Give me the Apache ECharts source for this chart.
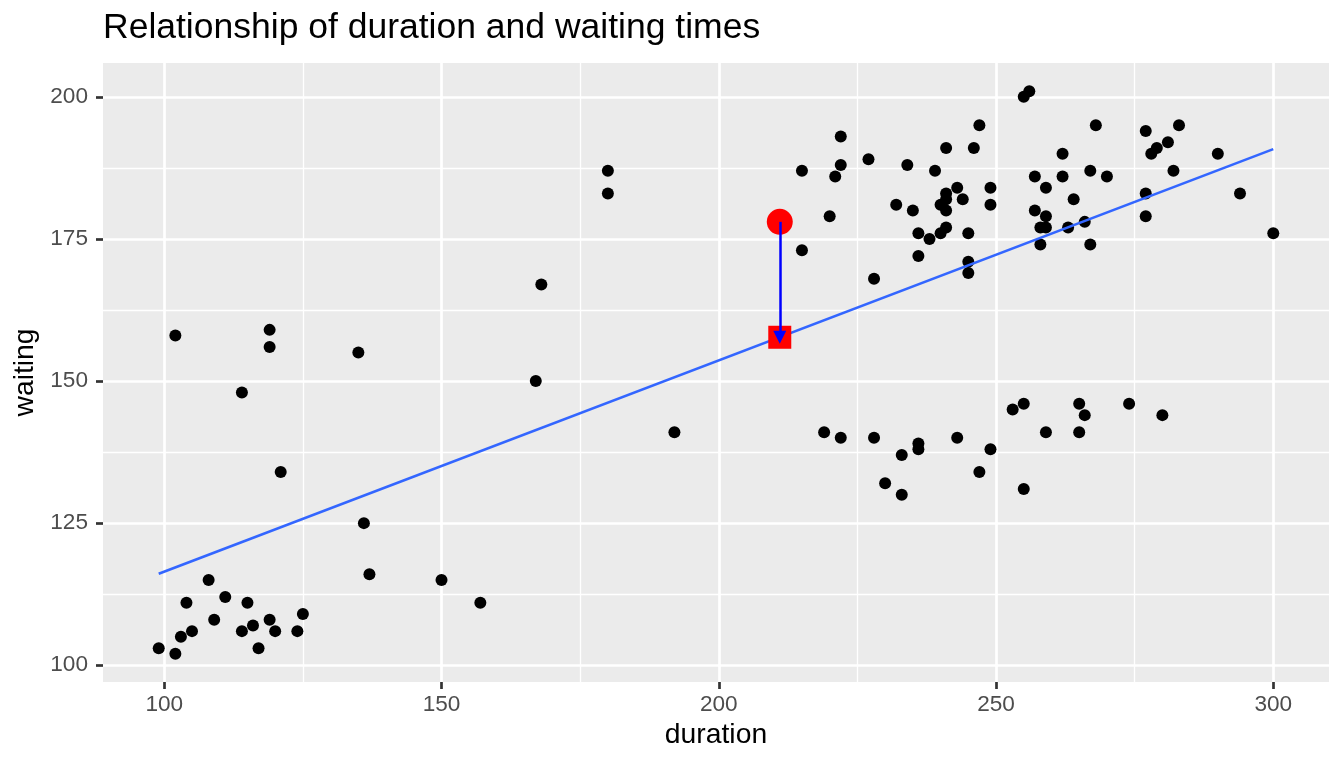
<!DOCTYPE html>
<html>
<head>
<meta charset="utf-8">
<script src="https://cdn.jsdelivr.net/npm/echarts@6/dist/echarts.min.js"></script>
<style>
  html, body { margin: 0; padding: 0; background: #fff; }
  #main { width: 1344px; height: 768px; }
</style>
</head>
<body>
<div id="main"></div>
<script>
// eruption duration vs waiting time
const duration = [
  102, 119, 119, 135, 168, 167, 114, 121, 136, 137, 150, 157, 108, 104, 111, 115,
  109, 119, 125, 105, 114, 116, 120, 124, 103, 99, 102, 117, 180, 180, 192,
  222, 215, 222, 221, 227, 234, 239, 241, 246, 247, 255, 256, 220, 215, 232, 235,
  243, 241, 241, 240, 241, 244, 249, 249, 236, 238, 240, 241, 245, 236, 228, 245,
  245, 257, 259, 257, 259, 258, 259, 258,
  268, 262, 262, 267, 270, 264, 263, 266, 267, 277, 283, 281, 279, 278, 290, 282,
  277, 294, 277, 300,
  219, 222, 228, 236, 236, 233, 243, 249, 247, 230, 233, 255, 253, 255, 259, 265,
  266, 265, 274, 280
];
const waiting = [
  158, 159, 156, 155, 167, 150, 148, 134, 125, 116, 115, 111, 115, 111, 112, 111,
  108, 108, 109, 106, 106, 107, 106, 106, 105, 103, 102, 103, 187, 183, 141,
  193, 187, 188, 186, 189, 188, 187, 191, 191, 195, 200, 201, 179, 173, 181, 180,
  184, 183, 182, 181, 180, 182, 184, 181, 176, 175, 176, 177, 176, 172, 168, 171,
  169, 186, 184, 180, 179, 177, 177, 174,
  195, 190, 186, 187, 186, 182, 177, 178, 174, 194, 195, 192, 191, 190, 190, 187,
  183, 183, 179, 176,
  141, 140, 140, 139, 138, 137, 140, 138, 134, 132, 130, 131, 145, 146, 141, 146,
  144, 141, 146, 144
];

const xTicks = [100, 150, 200, 250, 300];
const yTicks = [100, 125, 150, 175, 200];
const xMinor = [125, 175, 225, 275];
const yMinor = [112.5, 137.5, 162.5, 187.5];

// fitted line ends
const fitX = [99, 300];
const fitY = [116.1, 190.8];

// highlighted observation and its fitted value
const obsPoint = [211, 178];
const fitPoint = [211, 157.7];

const points = duration.map((d, i) => [d, waiting[i]]);
const fitLine = fitX.map((x, i) => [x, fitY[i]]);

const chart = echarts.init(document.getElementById('main'));
const font = 'Liberation Sans, Arial, Helvetica, sans-serif';

const option = {
  animation: false,
  backgroundColor: '#ffffff',
  title: {
    text: 'Relationship of duration and waiting times',
    left: 103,
    top: 10,
    padding: 0,
    textStyle: { fontFamily: font, fontSize: 35.5, fontWeight: 'normal', color: '#000000' }
  },
  grid: {
    left: 103, right: 15, top: 63, bottom: 86,
    show: true, backgroundColor: '#EBEBEB', borderWidth: 0
  },
  xAxis: {
    type: 'value',
    min: 88.95, max: 310.05,
    name: 'duration',
    nameLocation: 'middle',
    nameGap: 39,
    nameTextStyle: { fontFamily: font, fontSize: 28.3, color: '#000000' },
    axisLine: { show: false },
    axisTick: { show: true, customValues: xTicks, length: 7, lineStyle: { color: '#333333', width: 2.7 } },
    axisLabel: { customValues: xTicks, margin: 11, fontFamily: font, fontSize: 22.6, color: '#4D4D4D' },
    splitLine: { show: true, lineStyle: { color: '#ffffff', width: 2.7 } }
  },
  yAxis: {
    type: 'value',
    min: 97.05, max: 205.95,
    name: 'waiting',
    nameLocation: 'middle',
    nameGap: 61,
    nameRotate: 90,
    nameTextStyle: { fontFamily: font, fontSize: 28.3, color: '#000000' },
    axisLine: { show: false },
    axisTick: { show: true, customValues: yTicks, length: 7, lineStyle: { color: '#333333', width: 2.7 } },
    axisLabel: { customValues: yTicks, margin: 15, fontFamily: font, fontSize: 22.6, color: '#4D4D4D' },
    splitLine: { show: true, lineStyle: { color: '#ffffff', width: 2.7 } }
  },
  series: [
    {
      // minor grid
      type: 'line',
      data: [],
      silent: true,
      z: 1,
      markLine: {
        z: 1,
        silent: true,
        symbol: 'none',
        label: { show: false },
        lineStyle: { color: '#ffffff', width: 1.35, type: 'solid' },
        emphasis: { disabled: true },
        data: xMinor.map(v => ({ xAxis: v })).concat(yMinor.map(v => ({ yAxis: v })))
      }
    },
    {
      type: 'scatter',
      data: points,
      symbolSize: 12,
      itemStyle: { color: '#000000', opacity: 1 },
      z: 3
    },
    {
      type: 'line',
      data: fitLine,
      showSymbol: false,
      lineStyle: { color: '#3366FF', width: 2.6 },
      z: 4
    },
    {
      type: 'scatter',
      data: [obsPoint],
      symbolSize: 26,
      itemStyle: { color: '#FF0000', opacity: 1 },
      z: 5
    },
    {
      type: 'scatter',
      data: [fitPoint],
      symbol: 'rect',
      symbolSize: 23,
      itemStyle: { color: '#FF0000', opacity: 1 },
      z: 5
    },
    {
      // residual arrow
      type: 'line',
      data: [],
      z: 7,
      markLine: {
        z: 7,
        silent: true,
        symbol: ['none', 'triangle'],
        symbolSize: [13, 13],
        label: { show: false },
        lineStyle: { color: '#0000FF', width: 2.5, type: 'solid' },
        emphasis: { disabled: true },
        data: [[{ coord: obsPoint }, { coord: fitPoint }]]
      }
    }
  ]
};

chart.setOption(option);
</script>
</body>
</html>
